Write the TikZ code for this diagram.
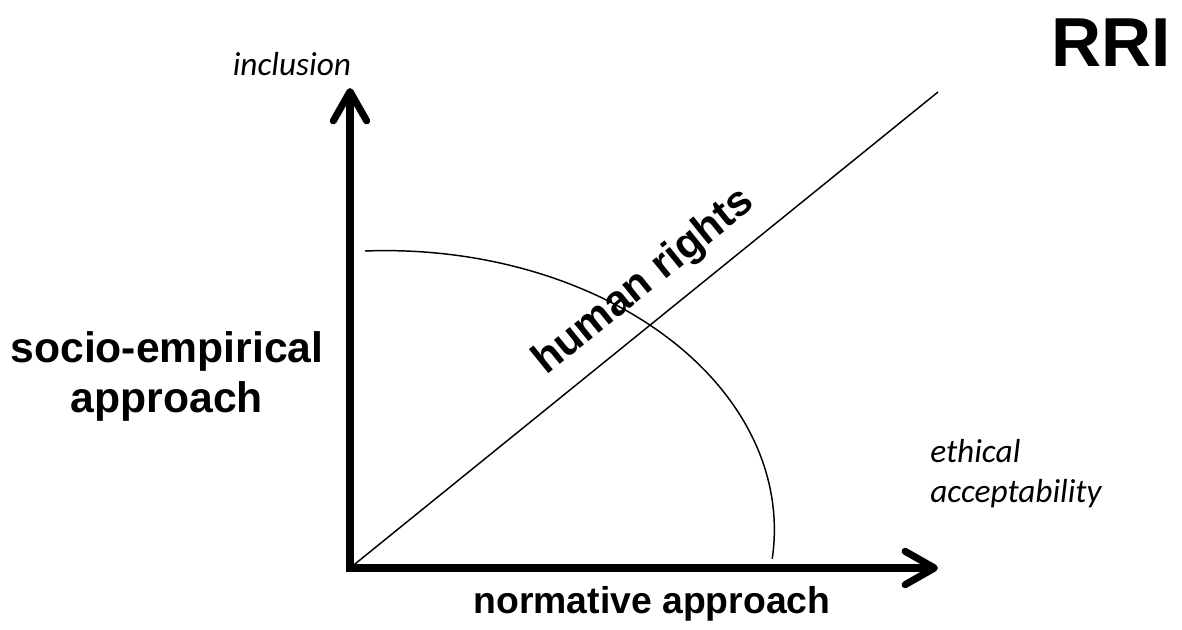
\documentclass[tikz,border=0pt]{standalone}
\usepackage{fontspec}
\setmainfont{Liberation Sans}
\newfontfamily\calfont{Carlito}
\usetikzlibrary{arrows.meta}

\begin{document}
\begin{tikzpicture}[
    x=0.75pt, y=-0.75pt,
    axis/.style={line width=5.3pt, line join=miter,
        {Straight Barb[length=22pt, width=25pt, round]}-{Straight Barb[length=22pt, width=25pt, round]}},
    guide/.style={line width=1.1pt},
    boldlbl/.style={inner sep=0pt, font=\bfseries},
    soft/.style={inner sep=0pt, font=\calfont\itshape\fontsize{25}{30}\selectfont}
]
\useasboundingbox (0,0) rectangle (1182,629);

\coordinate (o) at (350,568);
\coordinate (yend) at (350,88);
\coordinate (xend) at (938,568);
\coordinate (dend) at (938,92);
\coordinate (arcstart) at (365,251);

\draw[axis] (yend) -- (o) -- (xend);
\draw[guide] (o) -- (dend) node[boldlbl, pos=0.54, sloped, above=12pt, font=\bfseries\fontsize{32}{38}\selectfont] (rights) {human rights};
\draw[guide] (arcstart) arc[start angle=93, end angle=-6, x radius=291.75pt, y radius=209.25pt];

\node[boldlbl, anchor=base, font=\bfseries\fontsize{52}{60}\selectfont] (rri) at (1111,66) {RRI};
\node[soft, anchor=base] (incl) at (292,75) {inclusion};
% multi-line nodes: base is the last line
\node[soft, anchor=base west, align=left] (ethic) at (930,502) {ethical\\acceptability};
\node[boldlbl, anchor=base, align=center, font=\bfseries\fontsize{32}{37}\selectfont] (socio) at (167,412) {socio-empirical\\approach};
\node[boldlbl, anchor=base, font=\bfseries\fontsize{28}{33}\selectfont] (norm) at (652,613) {normative approach};
\end{tikzpicture}
\end{document}
